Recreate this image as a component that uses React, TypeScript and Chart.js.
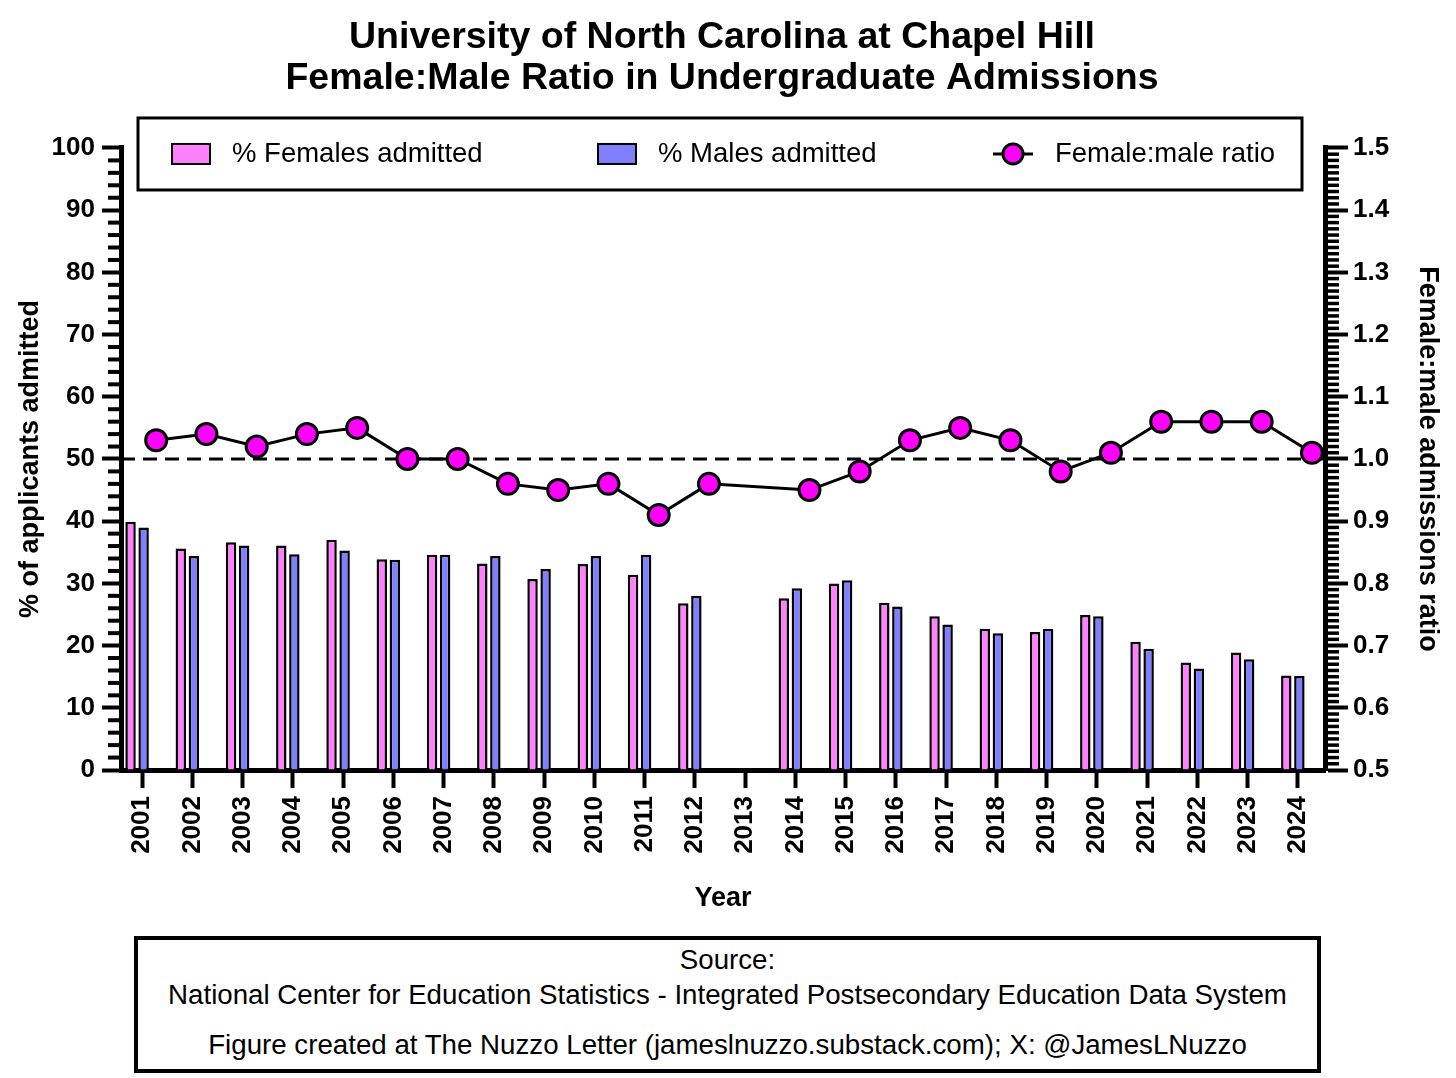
import { useEffect, useRef } from 'react'
import { Chart, registerables } from 'chart.js'

Chart.register(...registerables)

const years = [
  '2001', '2002', '2003', '2004', '2005', '2006', '2007', '2008', '2009', '2010', '2011', '2012',
  '2013', '2014', '2015', '2016', '2017', '2018', '2019', '2020', '2021', '2022', '2023', '2024'
]

// % of applicants admitted (2013 has no data)
const femalesAdmitted = [
  39.9, 35.6, 36.6, 36.1, 37.0, 33.9, 34.6, 33.2, 30.7, 33.1, 31.4, 26.8,
  null, 27.6, 30.0, 26.9, 24.7, 22.7, 22.2, 24.9, 20.6, 17.3, 18.9, 15.2
]
const malesAdmitted = [
  39.0, 34.4, 36.1, 34.7, 35.3, 33.8, 34.6, 34.4, 32.3, 34.4, 34.6, 28.0,
  null, 29.2, 30.5, 26.3, 23.4, 22.0, 22.7, 24.7, 19.5, 16.3, 17.8, 15.1
]
const femaleMaleRatio = [
  1.03, 1.04, 1.02, 1.04, 1.05, 1.0, 1.0, 0.96, 0.95, 0.96, 0.91, 0.96,
  null, 0.95, 0.98, 1.03, 1.05, 1.03, 0.98, 1.01, 1.06, 1.06, 1.06, 1.01
]
const parityRatio = 1.0

const percentTicks = [0, 10, 20, 30, 40, 50, 60, 70, 80, 90, 100]
const ratioTicks = [0.5, 0.6, 0.7, 0.8, 0.9, 1.0, 1.1, 1.2, 1.3, 1.4, 1.5]

const FONT = '"Liberation Sans", Arial, Helvetica, sans-serif'
const PINK = '#FF80FF'
const BLUE = '#8080FF'
const MAGENTA = '#FF00FF'

// Prism puts the bar pairs a bit left of each tick and the ratio points a bit right
const BAR_SHIFT = -0.1
const LINE_SHIFT = 0.28
const X_MIN = -0.42
const X_MAX = 23.54

const toPoints = (values: (number | null)[], shift: number) =>
  values.flatMap((v, i) => (v == null ? [] : [{ x: i + shift, y: v }]))

// minor tick marks between the labelled ones
const minorTicks = {
  id: 'minorTicks',
  afterDraw(chart: any) {
    const { ctx } = chart
    const left = chart.scales.y
    const right = chart.scales.y1
    ctx.save()
    ctx.strokeStyle = '#000'
    ctx.lineWidth = 4
    for (let v = 0; v <= 100; v += 2) {
      if (v % 10 === 0) continue
      const py = left.getPixelForValue(v)
      ctx.beginPath()
      ctx.moveTo(left.right - 13, py)
      ctx.lineTo(left.right, py)
      ctx.stroke()
    }
    ctx.lineWidth = 3.5
    for (let k = 50; k <= 150; k++) {
      if (k % 10 === 0) continue
      const py = right.getPixelForValue(k / 100)
      ctx.beginPath()
      ctx.moveTo(right.left, py)
      ctx.lineTo(right.left + 14, py)
      ctx.stroke()
    }
    ctx.restore()
  }
}

// boxed legend sitting over the top of the plot
const legendBox = {
  id: 'legendBox',
  afterDraw(chart: any) {
    const { ctx, chartArea } = chart
    const sets = chart.data.datasets
    const x0 = chartArea.left + 17
    const y0 = chartArea.top - 30
    const x1 = chartArea.right - 23
    const y1 = chartArea.top + 42
    const cy = (y0 + y1) / 2
    ctx.save()
    ctx.fillStyle = '#fff'
    ctx.fillRect(x0, y0, x1 - x0, y1 - y0)
    ctx.strokeStyle = '#000'
    ctx.lineWidth = 3
    ctx.strokeRect(x0, y0, x1 - x0, y1 - y0)

    ctx.font = `27.5px ${FONT}`
    ctx.textBaseline = 'middle'
    ctx.textAlign = 'left'

    const swatch = (sx: number, color: string) => {
      ctx.fillStyle = color
      ctx.fillRect(sx, cy - 10, 38, 20)
      ctx.lineWidth = 2
      ctx.strokeStyle = '#000'
      ctx.strokeRect(sx, cy - 10, 38, 20)
    }
    swatch(x0 + 34, sets[0].backgroundColor)
    ctx.fillStyle = '#000'
    ctx.fillText(sets[0].label, x0 + 94, cy)

    swatch(x0 + 460, sets[1].backgroundColor)
    ctx.fillStyle = '#000'
    ctx.fillText(sets[1].label, x0 + 520, cy)

    ctx.strokeStyle = '#000'
    ctx.lineWidth = 3
    ctx.beginPath()
    ctx.moveTo(x0 + 855, cy)
    ctx.lineTo(x0 + 895, cy)
    ctx.stroke()
    ctx.beginPath()
    ctx.arc(x0 + 875, cy, 10, 0, Math.PI * 2)
    ctx.fillStyle = sets[2].pointBackgroundColor
    ctx.fill()
    ctx.stroke()
    ctx.fillStyle = '#000'
    ctx.fillText(sets[2].label, x0 + 917, cy)
    ctx.restore()
  }
}

const tickFont = { family: FONT, size: 26, weight: 'bold' as const }
const titleFont = { family: FONT, size: 27, weight: 'bold' as const }

const AdmissionsChart = () => {
  const chartRef = useRef<HTMLCanvasElement>(null)
  const chartInstance = useRef<Chart | null>(null)

  useEffect(() => {
    if (!chartRef.current) return
    if (chartInstance.current) chartInstance.current.destroy()

    chartInstance.current = new Chart(chartRef.current, {
      type: 'bar',
      data: {
        datasets: [
          {
            label: '% Females admitted',
            data: toPoints(femalesAdmitted, BAR_SHIFT),
            backgroundColor: PINK,
            borderColor: '#000',
            borderWidth: 2.5,
            categoryPercentage: 0.52,
            barPercentage: 0.8,
            yAxisID: 'y',
            order: 2
          },
          {
            label: '% Males admitted',
            data: toPoints(malesAdmitted, BAR_SHIFT),
            backgroundColor: BLUE,
            borderColor: '#000',
            borderWidth: 2.5,
            categoryPercentage: 0.52,
            barPercentage: 0.8,
            yAxisID: 'y',
            order: 2
          },
          {
            type: 'line',
            label: 'Female:male ratio',
            data: toPoints(femaleMaleRatio, LINE_SHIFT),
            yAxisID: 'y1',
            borderColor: '#000',
            borderWidth: 3,
            pointRadius: 10.5,
            pointBackgroundColor: MAGENTA,
            pointBorderColor: '#000',
            pointBorderWidth: 3,
            clip: false,
            order: 0
          },
          {
            type: 'line',
            label: 'parity',
            data: [{ x: X_MIN, y: parityRatio }, { x: X_MAX, y: parityRatio }],
            yAxisID: 'y1',
            borderColor: '#000',
            borderWidth: 3,
            borderDash: [14, 8],
            pointRadius: 0,
            order: 1
          }
        ] as any
      },
      options: {
        animation: false,
        responsive: true,
        maintainAspectRatio: false,
        events: [],
        layout: { padding: { left: 0, right: 12, top: 0, bottom: 0 } },
        plugins: {
          legend: { display: false },
          tooltip: { enabled: false },
          title: {
            display: true,
            text: ['University of North Carolina at Chapel Hill', 'Female:Male Ratio in Undergraduate Admissions'],
            color: '#000',
            font: { family: FONT, size: 37.5, weight: 'bold', lineHeight: 1.093 },
            padding: { top: 17, bottom: 49 }
          }
        },
        scales: {
          x: {
            type: 'linear',
            offset: false,
            min: X_MIN,
            max: X_MAX,
            afterBuildTicks: (scale: any) => {
              scale.ticks = years.map((_, i) => ({ value: i }))
            },
            afterFit: (scale: any) => {
              scale.height = 160
            },
            ticks: {
              autoSkip: false,
              minRotation: 90,
              maxRotation: 90,
              padding: 8,
              color: '#000',
              font: tickFont,
              callback: (value: any) => years[value]
            },
            grid: { offset: false, drawOnChartArea: false, tickLength: 18, tickWidth: 4, tickColor: '#000' },
            border: { width: 5, color: '#000' },
            title: {
              display: true,
              text: 'Year',
              color: '#000',
              font: titleFont,
              padding: { top: 0, bottom: 15 }
            }
          },
          y: {
            position: 'left',
            min: 0,
            max: 100,
            afterBuildTicks: (scale: any) => {
              scale.ticks = percentTicks.map(value => ({ value }))
            },
            afterFit: (scale: any) => {
              scale.width = 121
            },
            ticks: { color: '#000', font: tickFont, padding: 7 },
            grid: { drawOnChartArea: false, tickLength: 19, tickWidth: 4, tickColor: '#000' },
            border: { width: 5, color: '#000' },
            title: {
              display: true,
              text: '% of applicants admitted',
              color: '#000',
              font: titleFont,
              padding: { top: 14, bottom: 0 }
            }
          },
          y1: {
            position: 'right',
            min: 0.5,
            max: 1.5,
            afterBuildTicks: (scale: any) => {
              scale.ticks = ratioTicks.map(value => ({ value }))
            },
            afterFit: (scale: any) => {
              scale.width = 119
            },
            ticks: {
              color: '#000',
              font: tickFont,
              padding: 5,
              callback: (value: any) => Number(value).toFixed(1)
            },
            grid: { drawOnChartArea: false, tickLength: 23, tickWidth: 4, tickColor: '#000' },
            border: { width: 5, color: '#000' },
            title: {
              display: true,
              text: 'Female:male admissions ratio',
              color: '#000',
              font: titleFont,
              padding: { top: 0, bottom: 0 }
            }
          }
        }
      },
      plugins: [minorTicks, legendBox]
    })

    return () => {
      if (chartInstance.current) {
        chartInstance.current.destroy()
        chartInstance.current = null
      }
    }
  }, [])

  return (
    <div style={{ position: 'relative', width: 1456, height: 930 }}>
      <canvas ref={chartRef}></canvas>
    </div>
  )
}

const sourceLine = (top: number) => ({
  position: 'absolute' as const,
  left: 0,
  right: 0,
  top,
  lineHeight: '30px',
  textAlign: 'center' as const
})

const App = () => {
  return (
    <div
      style={{
        position: 'absolute',
        left: 0,
        top: 0,
        width: 1456,
        height: 1078,
        overflow: 'hidden',
        background: '#fff',
        fontFamily: FONT
      }}
    >
      <AdmissionsChart />
      <div
        style={{
          position: 'absolute',
          left: 134,
          top: 936,
          width: 1187,
          height: 137,
          border: '4px solid #000',
          boxSizing: 'border-box',
          fontSize: 27.7,
          color: '#000'
        }}
      >
        <div style={sourceLine(5)}>Source:</div>
        <div style={sourceLine(40)}>National Center for Education Statistics - Integrated Postsecondary Education Data System</div>
        <div style={sourceLine(90)}>Figure created at The Nuzzo Letter (jameslnuzzo.substack.com); X: @JamesLNuzzo</div>
      </div>
    </div>
  )
}

export default App
